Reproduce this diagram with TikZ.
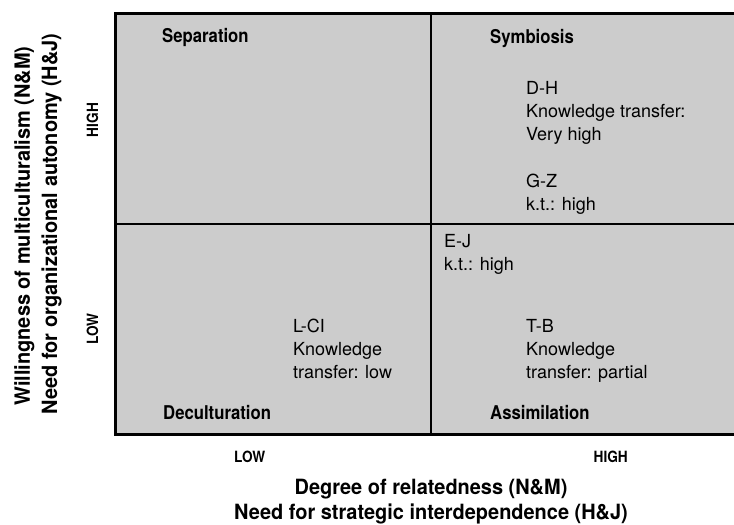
\documentclass[tikz,border=0pt]{standalone}
\usepackage{fontspec}
\setmainfont{TeX Gyre Heros}
\newfontfamily\condfont{TeX Gyre Heros}[FakeStretch=0.88]
\newfontfamily\axisfont{TeX Gyre Heros}[FakeStretch=0.95]
\definecolor{quadgray}{RGB}{204,204,204}
\begin{document}
\begin{tikzpicture}[x=1pt,y=-1pt,
  quadtitle/.style={anchor=base west, inner sep=0, font=\condfont\bfseries\fontsize{19}{23}\selectfont},
  cases/.style={anchor=north west, inner sep=0, align=left, font=\fontsize{18}{23}\selectfont},
  axistitle/.style={inner sep=0, font=\axisfont\bfseries\fontsize{21}{26}\selectfont},
  levellabel/.style={inner sep=0, font=\condfont\bfseries\fontsize{15.5}{18}\selectfont},
  frame/.style={line width=3pt},
  divider/.style={line width=2pt}]
\useasboundingbox (0,0) rectangle (734,525);
\clip (0,0) rectangle (734,525);
% quadrant field
\coordinate (tl) at (115,13.5);
\coordinate (br) at (745,434.5);
\fill[quadgray] (tl) rectangle (br);
\draw[divider] (431,13.5) -- (431,434.5);
\draw[divider] (115,223.7) -- (745,223.7);
\draw[frame] (745,13.5) -- (tl) -- (115,434.5) -- (br);
% quadrant titles
\node[quadtitle] (sep) at (162,42) {Separation};
\node[quadtitle] (sym) at (490,43) {Symbiosis};
\node[quadtitle] (dec) at (163,419) {Deculturation};
\node[quadtitle] (ass) at (490,419) {Assimilation};
% cases
\node[cases] (dh) at (526,81) {D-H\\Knowledge transfer:\\Very high};
\node[cases] (gz) at (526,174) {G-Z\\k.t.: high};
\node[cases] (ej) at (444,234) {E-J\\k.t.: high};
\node[cases] (tb) at (526,319) {T-B\\Knowledge\\transfer: partial};
\node[cases] (lci) at (293,319) {L-CI\\Knowledge\\transfer: low};
% vertical axis
\node[axistitle, rotate=90, anchor=base] (yt1) at (30,226) {Willingness of multiculturalism (N\&M)};
\node[axistitle, rotate=90, anchor=base] (yt2) at (57,224) {Need for organizational autonomy (H\&J)};
\node[levellabel, rotate=90, anchor=base] (yhigh) at (98,120) {HIGH};
\node[levellabel, rotate=90, anchor=base] (ylow) at (98,329) {LOW};
% horizontal axis
\node[axistitle, anchor=base] (xt1) at (431,494) {Degree of relatedness (N\&M)};
\node[axistitle, anchor=base] (xt2) at (431,519) {Need for strategic interdependence (H\&J)};
\node[levellabel, anchor=base west] (xlow) at (xt2.west |- 0,462) {LOW};
\node[levellabel, anchor=base east] (xhigh) at (xt2.east |- 0,462) {HIGH};
\end{tikzpicture}
\end{document}
